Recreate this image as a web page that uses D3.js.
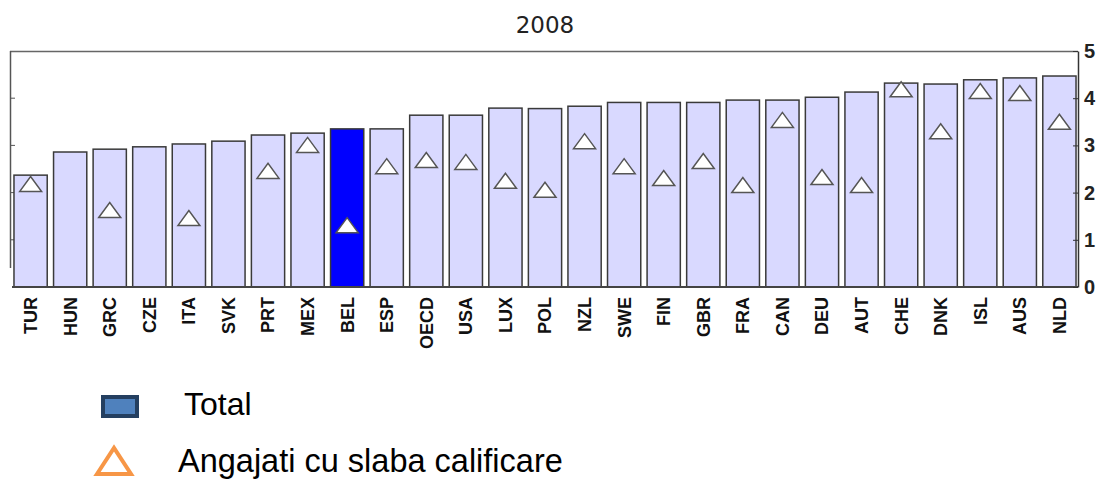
<!DOCTYPE html>
<html>
<head>
<meta charset="utf-8">
<script src="https://cdn.jsdelivr.net/npm/d3@7"></script>
<style>
  body { margin: 0; background: #fff; }
  svg { display: block; font-family: 'Liberation Sans', Arial, sans-serif; }
  .bar { stroke: #3a3a3a; stroke-width: 1.5; }
  .tri { fill: #fff; stroke: #555; stroke-width: 1.5; }
  .yaxis path, .yaxis line { stroke: #333; }
  .yaxis text { font-size: 20px; font-weight: bold; fill: #222; }
  .xlab { font-size: 18px; font-weight: bold; fill: #111; }
</style>
</head>
<body>
<div id="plot-container"></div>
<script>
// data
var countries = ['TUR','HUN','GRC','CZE','ITA','SVK','PRT','MEX','BEL','ESP','OECD','USA','LUX','POL','NZL','SWE','FIN','GBR','FRA','CAN','DEU','AUT','CHE','DNK','ISL','AUS','NLD'];
var total = [2.37,2.86,2.92,2.97,3.03,3.09,3.22,3.26,3.35,3.35,3.64,3.64,3.79,3.78,3.83,3.91,3.91,3.91,3.96,3.96,4.02,4.13,4.32,4.30,4.39,4.43,4.47];
var lowSkilled = [2.18,null,1.63,null,1.46,null,2.46,3.01,1.31,2.56,2.69,2.65,2.25,2.06,3.09,2.56,2.31,2.67,2.16,3.54,2.33,2.16,4.19,3.30,4.15,4.11,3.50];
var yTicks = [0,1,2,3,4,5];
var highlight = 'BEL';
var title = '2008';
var legendLabels = ['Total', 'Angajati cu slaba calificare'];

var totalWidth = 1108, totalHeight = 479;
var frame = {left: 11, right: 1078, top: 51, bottom: 287};

var svg = d3.select('#plot-container').append('svg').attr('width', totalWidth).attr('height', totalHeight);

var x = d3.scaleBand().domain(countries).range([frame.left + 1, frame.right]).paddingInner(0.16).paddingOuter(0.05);
var y = d3.scaleLinear().domain([0, 5]).range([frame.bottom, frame.top]);

// title
svg.append('text').attr('x', 545).attr('y', 33).attr('text-anchor', 'middle')
  .style('font-family', "'DejaVu Sans', sans-serif").style('font-size', '23px').style('fill', '#222').text(title);

// frame: top line + left line with small ticks
svg.append('line').attr('x1', frame.left - 1).attr('x2', frame.right).attr('y1', frame.top + 0.5).attr('y2', frame.top + 0.5)
  .attr('stroke', '#666').attr('stroke-width', 1.5);
svg.append('line').attr('x1', frame.left - 0.5).attr('x2', frame.left - 0.5).attr('y1', frame.top).attr('y2', 268)
  .attr('stroke', '#555').attr('stroke-width', 1.5);
svg.selectAll('line.lt').data(yTicks.filter(function(d) { return d > 0 && d < 5; })).enter().append('line').attr('class', 'lt')
  .attr('x1', frame.left - 1).attr('x2', frame.left + 4).attr('y1', function(d) { return y(d); }).attr('y2', function(d) { return y(d); })
  .attr('stroke', '#555');

// bars
svg.selectAll('rect.bar').data(countries).enter().append('rect').attr('class', 'bar')
  .attr('x', function(d) { return x(d); })
  .attr('y', function(d, i) { return y(total[i]); })
  .attr('width', x.bandwidth())
  .attr('height', function(d, i) { return y(0) - y(total[i]); })
  .attr('fill', function(d) { return d === highlight ? '#0000ff' : '#d9d9ff'; });

// baseline
svg.append('line').attr('x1', frame.left + 1).attr('x2', frame.right).attr('y1', y(0)).attr('y2', y(0))
  .attr('stroke', '#444').attr('stroke-width', 2);

// right axis
var yAxis = d3.axisRight(y).tickValues(yTicks).tickSizeInner(-5).tickSizeOuter(0).tickPadding(6).tickFormat(d3.format('d'));
svg.append('g').attr('class', 'yaxis').attr('transform', 'translate(' + [frame.right, 0] + ')').call(yAxis)
  .call(function(g) { g.select('.domain').attr('stroke-width', 1.5); });

// triangles (low-skilled)
var tri = 'M-11,7.5L0,-7.5L11,7.5Z';
svg.selectAll('path.tri').data(countries.map(function(c, i) { return {c: c, v: lowSkilled[i]}; }).filter(function(d) { return d.v != null; }))
  .enter().append('path').attr('class', 'tri').attr('d', tri)
  .attr('transform', function(d) { return 'translate(' + [x(d.c) + x.bandwidth() / 2, y(d.v)] + ')'; });

// category labels
svg.selectAll('text.xlab').data(countries).enter().append('text').attr('class', 'xlab')
  .attr('transform', function(d) { return 'translate(' + [x(d) + x.bandwidth() / 2, 297] + ') rotate(-90)'; })
  .attr('text-anchor', 'end').attr('dy', '0.36em').text(function(d) { return d; });

// legend
var legend = svg.append('g');
legend.append('rect').attr('x', 103).attr('y', 397).attr('width', 34).attr('height', 19)
  .attr('fill', '#4f81bd').attr('stroke', '#243f60').attr('stroke-width', 4);
legend.append('text').attr('x', 184).attr('y', 415).style('font-size', '32px').style('fill', '#000').text(legendLabels[0]);
legend.append('path').attr('d', 'M97,474L114,448L131,474Z').attr('fill', '#fff').attr('stroke', '#f79646').attr('stroke-width', 4);
legend.append('text').attr('x', 178).attr('y', 472).style('font-size', '32.5px').style('fill', '#000').text(legendLabels[1]);
</script>
</body>
</html>
